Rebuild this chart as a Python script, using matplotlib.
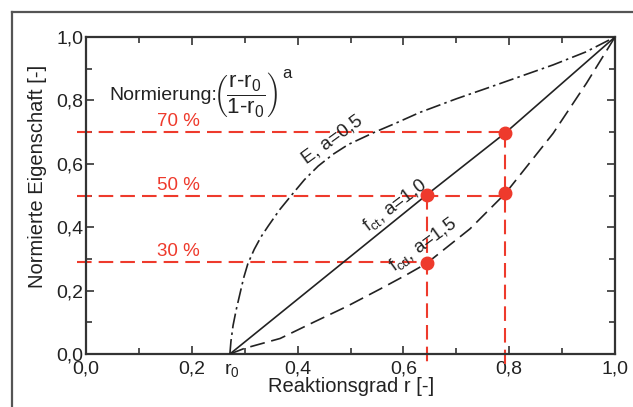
import matplotlib
matplotlib.use("Agg")
import matplotlib.pyplot as plt
from matplotlib.lines import Line2D

plt.rcParams['font.family'] = ['Liberation Sans', 'DejaVu Sans']
plt.rcParams['mathtext.fontset'] = 'custom'
plt.rcParams['mathtext.rm'] = 'Liberation Sans'
plt.rcParams['mathtext.it'] = 'Liberation Sans'
plt.rcParams['mathtext.bf'] = 'Liberation Sans:bold'

# ---- data ----
r0 = 0.272
lin_x = [0.272, 0.644, 0.793, 1.0]
lin_y = [0.0, 0.502, 0.698, 1.0]

e_x = [0.272, 0.274, 0.278, 0.284, 0.291, 0.298, 0.306, 0.318, 0.331, 0.345, 0.366, 0.389,
       0.413, 0.439, 0.467, 0.496, 0.546, 0.584, 0.631, 0.700, 0.757, 0.820, 0.883, 0.945, 1.0]
e_y = [0.0, 0.040, 0.090, 0.140, 0.190, 0.240, 0.285, 0.330, 0.370, 0.405, 0.455, 0.502,
       0.550, 0.593, 0.630, 0.661, 0.700, 0.727, 0.762, 0.805, 0.838, 0.875, 0.912, 0.953, 1.0]

cd_x = [0.272, 0.300, 0.367, 0.430, 0.493, 0.556, 0.606, 0.644, 0.726, 0.793, 0.883, 0.946, 1.0]
cd_y = [0.0, 0.018, 0.049, 0.100, 0.150, 0.205, 0.250, 0.286, 0.395, 0.507, 0.696, 0.854, 1.0]

dots_x = [0.644, 0.793, 0.793, 0.644]
dots_y = [0.502, 0.698, 0.507, 0.286]

levels = [0.70, 0.50, 0.29]
level_labels = ['70 %', '50 %', '30 %']
level_ends = [0.793, 0.793, 0.644]
vert_x = [0.644, 0.793]
vert_top = [0.502, 0.698]

xticks = [0.0, 0.2, 0.4, 0.6, 0.8, 1.0]
xticklabels = ['0,0', '0,2', '0,4', '0,6', '0,8', '1,0']
yticks = [0.0, 0.2, 0.4, 0.6, 0.8, 1.0]
yticklabels = ['0,0', '0,2', '0,4', '0,6', '0,8', '1,0']

RED = '#ee3a2c'
INK = '#222222'
W, H = 633, 407
HY = '\u2010'

fig = plt.figure(figsize=(W / 100, H / 100), dpi=100)
ax = fig.add_axes([86 / W, (H - 354) / H, 529 / W, 317 / H])
ax.set_xlim(0, 1)
ax.set_ylim(0, 1)

# outer frame (left and top edges visible)
fx, fy = 11.5 / W, 1 - 11.5 / H
fig.add_artist(Line2D([fx, fx], [0, fy], transform=fig.transFigure, color='#555555', lw=1.6))
fig.add_artist(Line2D([fx, 1], [fy, fy], transform=fig.transFigure, color='#555555', lw=1.6))

# red guide lines
for lv, lab, xe in zip(levels, level_labels, level_ends):
    ax.plot([-0.017, xe], [lv, lv], color=RED, lw=1.5, dashes=(7, 3.4), clip_on=False, zorder=2)
    ax.text(0.175, lv + 0.018, lab, color=RED, fontsize=13.5, ha='center', va='baseline')
for vx, vt in zip(vert_x, vert_top):
    ax.plot([vx, vx], [vt, -0.03], color=RED, lw=1.5, dashes=(7, 3.4), clip_on=False, zorder=2)

# curves
ax.plot(lin_x, lin_y, color=INK, lw=1.2, zorder=3)
ax.plot(e_x, e_y, color=INK, lw=1.2, dashes=(9, 2.5, 1.5, 2.5), zorder=3)
ax.plot(cd_x, cd_y, color=INK, lw=1.2, dashes=(9, 4), zorder=3)
ax.plot(dots_x, dots_y, 'o', color=RED, markersize=9, zorder=4, linestyle='none')

# curve labels
ax.text(0.465, 0.676, 'E, a=0,5', rotation=36, fontsize=13.5, ha='center', va='center', color=INK)
ax.text(0.584, 0.468, r'$\mathrm{f_{ct}}$, a=1,0', rotation=37, fontsize=13.5, ha='center', va='center', color=INK)
ax.text(0.637, 0.346, r'$\mathrm{f_{cd}}$, a=1,5', rotation=36, fontsize=13.5, ha='center', va='center', color=INK)

# formula
ax.text(0.045, 0.815, 'Normierung:', fontsize=14, ha='left', va='center', color=INK)
formula = (r'$\left(\dfrac{\mathrm{r}' + HY + r'\mathrm{r_0}}{1' + HY +
           r'\mathrm{r_0}}\right)$')
ax.text(0.240, 0.818, formula, fontsize=16, ha='left', va='center', color=INK)
ax.text(0.371, 0.885, 'a', fontsize=12, ha='left', va='center', color=INK)

# axes style
for s in ax.spines.values():
    s.set_linewidth(1.6)
    s.set_color('#333333')
ax.set_xticks(xticks)
ax.set_xticklabels(xticklabels)
ax.set_yticks(yticks)
ax.set_yticklabels(yticklabels)
ax.set_xticks([0.1, 0.3, 0.5, 0.7, 0.9], minor=True)
ax.set_yticks([0.1, 0.3, 0.5, 0.7, 0.9], minor=True)
ax.tick_params(which='both', direction='in', top=True, right=True, width=1.2, color='#333333')
ax.tick_params(which='major', length=6, labelsize=14, labelcolor=INK)
ax.tick_params(which='minor', length=4)
ax.tick_params(axis='x', pad=5)
ax.tick_params(axis='y', pad=2)

ax.text(r0 + 0.004, -0.021, r'$\mathrm{r_0}$', fontsize=14, ha='center', va='top', color=INK)

fig.text(38 / W, 1 - 176 / H, 'Normierte Eigenschaft [-]', rotation=90, fontsize=14.5,
         ha='center', va='center', color=INK)
fig.text(351 / W, 1 - 386 / H, 'Reaktionsgrad r [-]', fontsize=14.5, ha='center', va='center', color=INK)

fig.savefig('out.png', dpi=100)
